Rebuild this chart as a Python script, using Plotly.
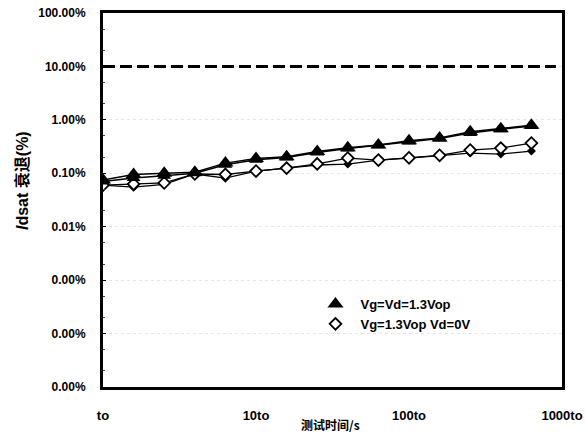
import plotly.graph_objects as go

# measurement points: time in units of t0, five points per decade
time_t0 = [1.0, 1.585, 2.512, 3.981, 6.31, 10.0, 15.85, 25.12, 39.81, 63.1,
           100.0, 158.5, 251.2, 398.1, 631.0]

# Idsat degradation (%) under Vg=Vd=1.3Vop, two samples
tri_a = [0.075, 0.095, 0.100, 0.105, 0.155, 0.190, 0.205, 0.255, 0.300, 0.340,
         0.405, 0.460, 0.600, 0.680, 0.790]
tri_b = [0.070, 0.082, 0.090, 0.100, 0.145, 0.180, 0.198, 0.245, 0.290, 0.335,
         0.395, 0.450, 0.570, 0.665, 0.770]

# Idsat degradation (%) under Vg=1.3Vop Vd=0V, two samples
dia_a = [0.060, 0.063, 0.066, 0.097, 0.095, 0.110, 0.125, 0.150, 0.193, 0.177,
         0.195, 0.217, 0.272, 0.296, 0.368]
dia_b = [0.060, 0.055, 0.062, 0.097, 0.081, 0.110, 0.125, 0.143, 0.149, 0.177,
         0.193, 0.217, 0.239, 0.229, 0.261]

# 10% failure criterion
limit_x = [1.0, 912.0]
limit_y = [10.0, 10.0]

series_names = ["Vg=Vd=1.3Vop", "Vg=1.3Vop Vd=0V"]

y_tickvals = [100, 10, 1, 0.1, 0.01, 0.001, 0.0001, 0.00001]
y_ticktext = ["100.00%", "10.00%", "1.00%", "0.10%", "0.01%", "0.00%", "0.00%", "0.00%"]
x_tickvals = [1, 10, 100, 1000]
x_ticktext = ["to", "10to", "100to", "1000to"]

FONT = "Arial, Liberation Sans, sans-serif"

TRI = dict(symbol="triangle-up", size=14, color="black")
DIA = dict(symbol="diamond", size=9, color="white", line=dict(color="black", width=1.8))

fig = go.Figure()

fig.add_trace(go.Scatter(
    x=limit_x, y=limit_y, mode="lines",
    line=dict(color="black", width=3, dash="12px,5px"),
    showlegend=False, hoverinfo="skip"))

fig.add_trace(go.Scatter(
    x=time_t0, y=dia_b, mode="lines+markers",
    line=dict(color="black", width=1.3),
    marker=dict(symbol="diamond", size=7, color="black"),
    showlegend=False))

fig.add_trace(go.Scatter(
    x=time_t0, y=dia_a, mode="lines+markers",
    line=dict(color="black", width=1.3),
    marker=DIA, showlegend=False))

fig.add_trace(go.Scatter(
    x=time_t0, y=tri_b, mode="lines+markers",
    line=dict(color="black", width=1.5),
    marker=dict(symbol="triangle-up", size=12, color="black"),
    showlegend=False))

fig.add_trace(go.Scatter(
    x=time_t0, y=tri_a, mode="lines+markers",
    line=dict(color="black", width=1.5),
    marker=TRI, showlegend=False))

# marker-only legend entries
fig.add_trace(go.Scatter(x=[None], y=[None], mode="markers", marker=TRI,
                         name=series_names[0], legendrank=1))
fig.add_trace(go.Scatter(x=[None], y=[None], mode="markers", marker=DIA,
                         name=series_names[1], legendrank=2))

fig.update_layout(
    width=585, height=444,
    margin=dict(l=103, r=23, t=13, b=57),
    paper_bgcolor="white", plot_bgcolor="white",
    font=dict(family=FONT, color="black", size=12),
    showlegend=True,
    legend=dict(
        x=0.452, y=0.262, xanchor="left", yanchor="top",
        bgcolor="rgba(0,0,0,0)",
        font=dict(family=FONT, size=13, color="black", weight="bold"),
        tracegroupgap=0, itemwidth=40),
    annotations=[
        dict(text="<i>I</i>dsat 衰退(%)", textangle=-90,
             xref="paper", yref="paper",
             x=(22 - 103) / 459, y=(387 - 181) / 374,
             xanchor="center", yanchor="middle", showarrow=False,
             font=dict(family=FONT + ", Noto Sans CJK SC", size=16,
                       weight="bold", color="black")),
        dict(text="测试时间/s", xref="paper", yref="paper",
             x=(330 - 103) / 459, y=(387 - 424) / 374,
             xanchor="center", yanchor="middle", showarrow=False,
             font=dict(family="Noto Sans CJK SC, " + FONT, size=12,
                       weight="bold", color="black")),
    ],
)

fig.update_xaxes(
    type="log", range=[0, 3], automargin=False,
    tickvals=x_tickvals, ticktext=x_ticktext,
    tickfont=dict(family=FONT, size=13, weight="bold"),
    ticks="", ticklen=0, ticklabelstandoff=14,
    showgrid=False, zeroline=False,
    showline=True, linecolor="black", linewidth=3, mirror=True,
)

fig.update_yaxes(
    type="log", range=[-5, 2], automargin=False,
    tickvals=y_tickvals, ticktext=y_ticktext,
    tickfont=dict(family=FONT, size=12, weight="bold"),
    ticks="inside", ticklen=3, tickcolor="black",
    minor=dict(ticks="inside", ticklen=2, tickcolor="#444", showgrid=False),
    showgrid=True, gridcolor="#e6e6e6", griddash="dot", gridwidth=1,
    zeroline=False,
    showline=True, linecolor="black", linewidth=3, mirror=True,
    ticklabelstandoff=12,
)

fig.write_html("out.html")
